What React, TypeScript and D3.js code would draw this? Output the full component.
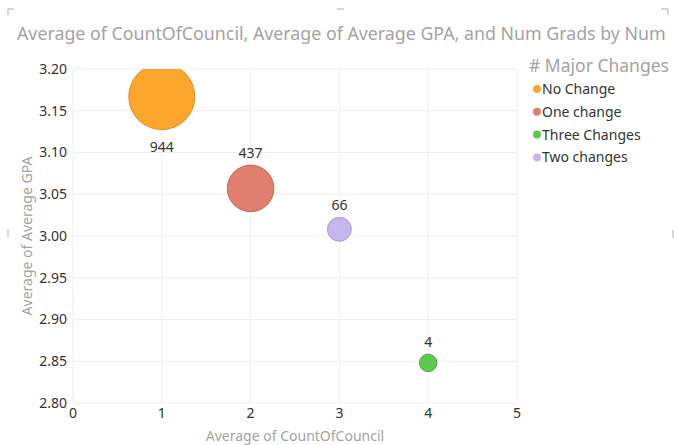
import React, { useEffect, useRef } from "react";
import * as d3 from "d3";

const categories = ["No Change", "One change", "Three Changes", "Two changes"];
const councilAvg = [1, 2, 4, 3];
const gpaAvg = [3.167, 3.057, 2.848, 3.008];
const numGrads = [944, 437, 4, 66];
const colors = ["#FCA72C", "#E07F6E", "#5BCA4B", "#C6B6EC"];
const strokes = ["#D98E22", "#C2695A", "#48AA3A", "#A99AD2"];
const xTicks = [0, 1, 2, 3, 4, 5];
const yTicks = [2.8, 2.85, 2.9, 2.95, 3.0, 3.05, 3.1, 3.15, 3.2];

const W = 674;
const H = 445;
const FONT = "'Segoe UI', 'Noto Sans', 'Open Sans', sans-serif";

export default function App() {
  const ref = useRef<SVGSVGElement>(null);

  useEffect(() => {
    const svg = d3.select(ref.current);
    svg.selectAll("*").remove();

    const left = 73, right = 517, top = 69, bottom = 403;

    const x = d3.scaleLinear().domain([0, 5]).range([left, right]);
    const y = d3.scaleLinear().domain([2.8, 3.2]).range([bottom, top]);
    // bubble area grows linearly with the count, with a minimum size
    const area = d3.scaleLinear().domain([0, 944]).range([72, 1089]);
    const r = (v: number) => Math.sqrt(area(v));

    // frame handles of the visual
    const handles = svg.append("g").attr("stroke", "#c8c8c8").attr("stroke-width", 1.5).attr("fill", "none");
    handles.append("path").attr("d", "M8,15 V9 H14");
    handles.append("path").attr("d", "M661,9 H668 V15");
    handles.append("path").attr("d", "M337,9 H344");
    handles.append("path").attr("d", "M8,229 V237");
    handles.append("path").attr("d", "M673,230 V238");

    // title
    svg.append("text")
      .attr("x", 17)
      .attr("y", 40)
      .style("font-family", FONT)
      .style("font-size", "17.8px")
      .attr("fill", "#a3a3a3")
      .text("Average of CountOfCouncil, Average of Average GPA, and Num Grads by Num");

    // grid
    const grid = svg.append("g").attr("stroke", "#eeeeee").attr("stroke-width", 1);
    grid.selectAll(".hg").data(yTicks).enter().append("line")
      .attr("x1", left).attr("x2", right)
      .attr("y1", d => y(d)).attr("y2", d => y(d));
    grid.selectAll(".vg").data(xTicks).enter().append("line")
      .attr("x1", d => x(d)).attr("x2", d => x(d))
      .attr("y1", top).attr("y2", bottom);

    // tick labels
    svg.append("g").selectAll("text").data(yTicks).enter().append("text")
      .attr("x", 67)
      .attr("y", d => y(d))
      .attr("dy", "0.35em")
      .attr("text-anchor", "end")
      .style("font-family", FONT)
      .style("font-size", "14px")
      .attr("fill", "#333")
      .text(d => d3.format(".2f")(d));

    svg.append("g").selectAll("text").data(xTicks).enter().append("text")
      .attr("x", d => x(d))
      .attr("y", 418)
      .attr("text-anchor", "middle")
      .style("font-family", FONT)
      .style("font-size", "14px")
      .attr("fill", "#333")
      .text(d => d);

    // axis titles
    svg.append("text")
      .attr("x", (left + right) / 2)
      .attr("y", 441)
      .attr("text-anchor", "middle")
      .style("font-family", FONT)
      .style("font-size", "14px")
      .attr("fill", "#a3a3a3")
      .text("Average of CountOfCouncil");

    svg.append("text")
      .attr("transform", `translate(32,${(top + bottom) / 2}) rotate(-90)`)
      .attr("text-anchor", "middle")
      .style("font-family", FONT)
      .style("font-size", "14px")
      .attr("fill", "#a3a3a3")
      .text("Average of Average GPA");

    // bubbles, clipped to the plot area
    svg.append("clipPath").attr("id", "plot-clip")
      .append("rect").attr("x", left).attr("y", top).attr("width", right - left).attr("height", bottom - top);

    const data = categories.map((c, i) => ({ c, cx: councilAvg[i], gpa: gpaAvg[i], n: numGrads[i], i }));

    svg.append("g").attr("clip-path", "url(#plot-clip)")
      .selectAll("circle").data(data).enter().append("circle")
      .attr("cx", d => x(d.cx))
      .attr("cy", d => y(d.gpa))
      .attr("r", d => r(d.n))
      .attr("fill", d => colors[d.i])
      .attr("stroke", d => strokes[d.i])
      .attr("stroke-width", 1);

    // data labels: above the bubble, below when it doesn't fit
    svg.append("g").selectAll("text").data(data).enter().append("text")
      .attr("x", d => x(d.cx))
      .attr("y", d => {
        const cy = y(d.gpa), rr = r(d.n);
        return cy - rr - 20 < top ? cy + rr + 22 : cy - rr - 7;
      })
      .attr("text-anchor", "middle")
      .style("font-family", FONT)
      .style("font-size", "14px")
      .attr("fill", "#333")
      .text(d => d.n);

    // legend
    svg.append("text")
      .attr("x", 529)
      .attr("y", 72)
      .style("font-family", FONT)
      .style("font-size", "17.5px")
      .attr("fill", "#a3a3a3")
      .text("# Major Changes");

    const legend = svg.append("g").selectAll("g").data(categories).enter().append("g")
      .attr("transform", (d, i) => `translate(537,${89 + i * 22.8})`);
    legend.append("circle").attr("r", 4).attr("fill", (d, i) => colors[i]);
    legend.append("text")
      .attr("x", 5)
      .attr("dy", "0.35em")
      .style("font-family", FONT)
      .style("font-size", "14px")
      .attr("fill", "#333")
      .text(d => d);
  }, []);

  return (
    <svg ref={ref} width={W} height={H}
      style={{ position: "absolute", left: 0, top: 0, background: "#fff" }} />
  );
}
